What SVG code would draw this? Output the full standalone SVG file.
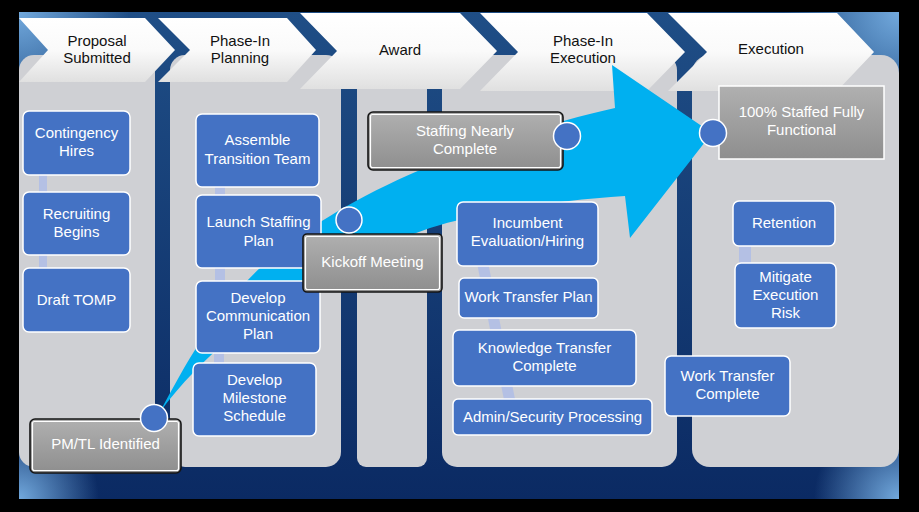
<svg xmlns="http://www.w3.org/2000/svg" width="919" height="512" viewBox="0 0 919 512">
<defs>
  <linearGradient id="bg" x1="0" y1="0" x2="0" y2="1">
    <stop offset="0" stop-color="#1f4e86"/>
    <stop offset="1" stop-color="#0b2a63"/>
  </linearGradient>
  <radialGradient id="cTL" cx="19" cy="12" r="110" gradientUnits="userSpaceOnUse">
    <stop offset="0" stop-color="#72a9dd"/>
    <stop offset="1" stop-color="#72a9dd" stop-opacity="0"/>
  </radialGradient>
  <radialGradient id="cTR" cx="899" cy="12" r="115" gradientUnits="userSpaceOnUse">
    <stop offset="0" stop-color="#72a9dd"/>
    <stop offset="1" stop-color="#72a9dd" stop-opacity="0"/>
  </radialGradient>
  <radialGradient id="cBL" cx="19" cy="499" r="80" gradientUnits="userSpaceOnUse">
    <stop offset="0" stop-color="#72a9dd"/>
    <stop offset="1" stop-color="#72a9dd" stop-opacity="0"/>
  </radialGradient>
  <radialGradient id="cBR" cx="899" cy="499" r="85" gradientUnits="userSpaceOnUse">
    <stop offset="0" stop-color="#72a9dd"/>
    <stop offset="1" stop-color="#72a9dd" stop-opacity="0"/>
  </radialGradient>
  <linearGradient id="chevg" x1="0" y1="0" x2="0" y2="1">
    <stop offset="0" stop-color="#ffffff"/>
    <stop offset="0.5" stop-color="#fafafa"/>
    <stop offset="1" stop-color="#e0e0e0"/>
  </linearGradient>
  <linearGradient id="grayg" x1="0" y1="0" x2="0" y2="1">
    <stop offset="0" stop-color="#b0b0b0"/>
    <stop offset="1" stop-color="#8e8e8e"/>
  </linearGradient>
</defs>
<style>
  .col{fill:#cfd0d4}
  .chev{fill:url(#chevg)}
  .ct{font-family:"Liberation Sans",Arial,sans-serif;font-size:15px;fill:#111;text-anchor:middle}
  .box rect{fill:#4472c4;stroke:#ffffff;stroke-width:1.5}
  .bt{font-family:"Liberation Sans",Arial,sans-serif;font-size:15px;fill:#ffffff;text-anchor:middle}
  .o{fill:url(#grayg);stroke:#151515;stroke-width:1.6}
  .i{fill:none;stroke:#ffffff;stroke-width:1.2}
  .dot{fill:#4472c4;stroke:#ffffff;stroke-width:1.5}
  .conn{stroke:#b4c0e4;fill:none}
</style>

<rect x="0" y="0" width="919" height="512" fill="#000000"/>
<g id="panel">
  <rect x="19" y="12" width="880" height="487" fill="url(#bg)"/>
  <rect x="19" y="12" width="880" height="487" fill="url(#cTL)"/>
  <rect x="19" y="12" width="880" height="487" fill="url(#cTR)"/>
  <rect x="19" y="12" width="880" height="487" fill="url(#cBL)"/>
  <rect x="19" y="12" width="880" height="487" fill="url(#cBR)"/>
</g>

<g id="columns">
  <rect class="col" x="19" y="55" width="136" height="412" rx="15"/>
  <rect class="col" x="170" y="55" width="171" height="412" rx="15"/>
  <rect class="col" x="357" y="55" width="70" height="412" rx="9"/>
  <rect class="col" x="442" y="55" width="235" height="412" rx="15"/>
  <rect class="col" x="692" y="55" width="207" height="412" rx="18"/>
</g>

<g id="phases">
  <g id="phase-proposal">
    <polygon class="chev" points="19,18 48,50 19,82 145,82 175,50 145,18"/>
    <text class="ct" x="97" y="46">Proposal</text>
    <text class="ct" x="97" y="63">Submitted</text>
  </g>
  <g id="phase-planning">
    <polygon class="chev" points="158,18 190,50 158,82 287,82 316,50 287,18"/>
    <text class="ct" x="240" y="46">Phase-In</text>
    <text class="ct" x="240" y="63">Planning</text>
  </g>
  <g id="phase-award">
    <polygon class="chev" points="300,13 337,51 300,89 460,89 497,51 460,13"/>
    <text class="ct" x="400" y="55">Award</text>
  </g>
  <g id="phase-execution-in">
    <polygon class="chev" points="480,13 518,52 480,91 647,91 685,52 647,13"/>
    <text class="ct" x="583" y="46">Phase-In</text>
    <text class="ct" x="583" y="63">Execution</text>
  </g>
  <g id="phase-execution">
    <polygon class="chev" points="668,13 707,52 668,91 837,91 874,52 837,13"/>
    <text class="ct" x="771" y="54">Execution</text>
  </g>
</g>

<g id="arrow">
  <path fill="#00b0f0" d="M160,412 C185,365 215,310 260,268 C300,232 350,200 420,170 C480,145 560,120 615,108 L612,65 L712,133 L630,238 L625,196 C560,200 480,212 430,228 C360,252 290,290 240,330 C205,358 180,385 160,412 Z"/>
</g>

<g id="connectors">
  <line class="conn" stroke-width="8" x1="43" y1="170" x2="43" y2="275"/>
  <line class="conn" stroke-width="10" x1="220" y1="180" x2="220" y2="290"/>
  <line class="conn" stroke-width="10" x1="219" y1="345" x2="219" y2="370"/>
  <line class="conn" stroke-width="11" x1="482" y1="260" x2="510" y2="402"/>
  <line class="conn" stroke-width="12" x1="745" y1="240" x2="745" y2="268"/>
</g>

<g id="node-contingency" class="box">
  <rect x="23" y="111" width="107" height="64" rx="6"/>
  <text class="bt" x="76.5" y="138">Contingency</text>
  <text class="bt" x="76.5" y="156">Hires</text>
</g>
<g id="node-recruiting" class="box">
  <rect x="23" y="192" width="107" height="63" rx="6"/>
  <text class="bt" x="76.5" y="219">Recruiting</text>
  <text class="bt" x="76.5" y="237">Begins</text>
</g>
<g id="node-tomp" class="box">
  <rect x="23" y="268" width="107" height="64" rx="6"/>
  <text class="bt" x="76.5" y="305">Draft TOMP</text>
</g>
<g id="node-assemble" class="box">
  <rect x="196" y="114" width="123" height="73" rx="6"/>
  <text class="bt" x="257.5" y="145">Assemble</text>
  <text class="bt" x="257.5" y="164">Transition Team</text>
</g>
<g id="node-launch" class="box">
  <rect x="196" y="195" width="125" height="73" rx="6"/>
  <text class="bt" x="258.5" y="227">Launch Staffing</text>
  <text class="bt" x="258.5" y="246">Plan</text>
</g>
<g id="node-comm" class="box">
  <rect x="196" y="281" width="124" height="72" rx="6"/>
  <text class="bt" x="258" y="303">Develop</text>
  <text class="bt" x="258" y="321">Communication</text>
  <text class="bt" x="258" y="339">Plan</text>
</g>
<g id="node-milestone" class="box">
  <rect x="193" y="363" width="123" height="73" rx="6"/>
  <text class="bt" x="254.5" y="385">Develop</text>
  <text class="bt" x="254.5" y="403">Milestone</text>
  <text class="bt" x="254.5" y="421">Schedule</text>
</g>
<g id="node-incumbent" class="box">
  <rect x="457" y="202" width="141" height="64" rx="6"/>
  <text class="bt" x="527.5" y="228">Incumbent</text>
  <text class="bt" x="527.5" y="246">Evaluation/Hiring</text>
</g>
<g id="node-wtp" class="box">
  <rect x="459" y="278" width="139" height="40" rx="5"/>
  <text class="bt" x="528.5" y="302">Work Transfer Plan</text>
</g>
<g id="node-ktc" class="box">
  <rect x="453" y="330" width="183" height="56" rx="6"/>
  <text class="bt" x="544.5" y="353">Knowledge Transfer</text>
  <text class="bt" x="544.5" y="371">Complete</text>
</g>
<g id="node-admin" class="box">
  <rect x="453" y="399" width="199" height="36" rx="5"/>
  <text class="bt" x="552.5" y="422">Admin/Security Processing</text>
</g>
<g id="node-retention" class="box">
  <rect x="733" y="201" width="102" height="45" rx="6"/>
  <text class="bt" x="784" y="228">Retention</text>
</g>
<g id="node-mitigate" class="box">
  <rect x="735" y="263" width="101" height="65" rx="6"/>
  <text class="bt" x="785.5" y="282">Mitigate</text>
  <text class="bt" x="785.5" y="300">Execution</text>
  <text class="bt" x="785.5" y="318">Risk</text>
</g>
<g id="node-wtc" class="box">
  <rect x="665" y="356" width="125" height="60" rx="6"/>
  <text class="bt" x="727.5" y="381">Work Transfer</text>
  <text class="bt" x="727.5" y="399">Complete</text>
</g>

<g id="milestone-staffing">
  <rect class="o" x="368" y="112" width="195" height="58" rx="5"/>
  <rect class="i" x="370.5" y="114.5" width="190" height="53" rx="2"/>
  <text class="bt" x="465" y="136">Staffing Nearly</text>
  <text class="bt" x="465" y="154">Complete</text>
  <circle class="dot" cx="567" cy="136" r="13.5"/>
</g>
<g id="milestone-kickoff">
  <rect class="o" x="303" y="234" width="139" height="58" rx="4"/>
  <rect class="i" x="305.5" y="236.5" width="134" height="53" rx="2"/>
  <text class="bt" x="372.5" y="267">Kickoff Meeting</text>
  <circle class="dot" cx="349" cy="220" r="13"/>
</g>
<g id="milestone-pmtl">
  <rect class="o" x="30" y="419" width="151" height="54" rx="5"/>
  <rect class="i" x="32.5" y="421.5" width="146" height="49" rx="2"/>
  <text class="bt" x="105.5" y="449">PM/TL Identified</text>
  <circle class="dot" cx="154" cy="418" r="13.5"/>
</g>
<g id="milestone-full">
  <rect fill="url(#grayg)" stroke="#ffffff" stroke-width="1.5" x="719" y="86" width="165" height="73"/>
  <text class="bt" x="801.5" y="117">100% Staffed Fully</text>
  <text class="bt" x="801.5" y="135">Functional</text>
  <circle class="dot" cx="713" cy="133" r="13.5"/>
</g>
</svg>
